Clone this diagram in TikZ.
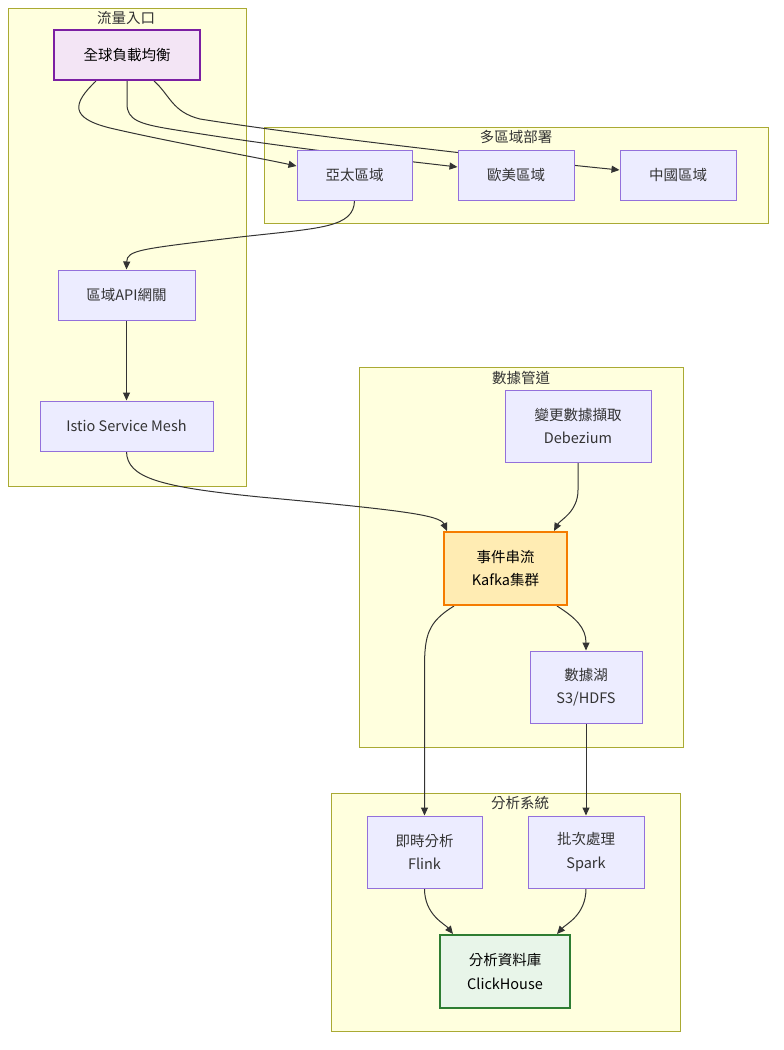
\documentclass[tikz,border=0pt]{standalone}
\usepackage{fontspec}
\setmainfont{Noto Sans CJK TC}
\usetikzlibrary{arrows.meta,calc}
\definecolor{nodefill}{HTML}{ECECFF}
\definecolor{nodeline}{HTML}{9370DB}
\definecolor{clfill}{HTML}{FFFFDE}
\definecolor{clline}{HTML}{AAAA33}
\definecolor{edgecol}{HTML}{333333}
\definecolor{glbfill}{HTML}{F3E5F5}
\definecolor{glbline}{HTML}{7B1FA2}
\definecolor{kfill}{HTML}{FFECB3}
\definecolor{kline}{HTML}{F57C00}
\definecolor{chfill}{HTML}{E8F5E9}
\definecolor{chline}{HTML}{2E7D32}
\pgfdeclarelayer{back}
\pgfdeclarelayer{bg}
\pgfdeclarelayer{edges}
\pgfsetlayers{back,bg,edges,main}
\tikzset{
  box/.style={draw=nodeline, fill=nodefill, line width=1pt, inner sep=0pt, align=center,
    text=edgecol, font=\fontsize{14.5}{23.5}\selectfont},
  glbbox/.style={box, draw=glbline, fill=glbfill, line width=2pt, text=black},
  kbox/.style={box, draw=kline, fill=kfill, line width=2pt, text=black},
  chbox/.style={box, draw=chline, fill=chfill, line width=2pt, text=black},
  cluster/.style={draw=clline, fill=clfill, line width=1pt},
  cltitle/.style={text=edgecol, font=\fontsize{14.5}{17}\selectfont, inner sep=0pt},
  arr/.style={draw=edgecol, line width=1pt, -{Triangle[length=8pt,width=7pt]}},
}
\begin{document}
\begin{tikzpicture}[x=1pt,y=-1pt]
\begin{pgfonlayer}{back}
\path[use as bounding box, fill=white] (0,0) rectangle (784,1050);
\end{pgfonlayer}

% clusters
\begin{pgfonlayer}{bg}
\draw[cluster] (8,8) rectangle (246,486);
\draw[cluster] (264,127) rectangle (768,223);
\draw[cluster] (359,367) rectangle (683,747);
\draw[cluster] (331,793) rectangle (680,1031);
\end{pgfonlayer}
\node[cltitle] (t1) at (126,18) {流量入口};
\node[cltitle] (t2) at (516,137) {多區域部署};
\node[cltitle] (t3) at (521,378) {數據管道};
\node[cltitle] (t4) at (520,803) {分析系統};

% nodes
\node[glbbox, minimum width=146pt, minimum height=50pt] (glb) at (127,55) {全球負載均衡};
\node[box, minimum width=115pt, minimum height=50pt] (ap) at (354.5,175) {亞太區域};
\node[box, minimum width=116pt, minimum height=50pt] (eu) at (516,175) {歐美區域};
\node[box, minimum width=116pt, minimum height=50pt] (cn) at (678,175) {中國區域};
\node[box, minimum width=137pt, minimum height=50pt] (api) at (126.5,295) {區域API網關};
\node[box, minimum width=173pt, minimum height=50pt] (istio) at (126.5,426) {Istio Service Mesh};
\node[box, minimum width=146pt, minimum height=72pt] (deb) at (578,426) {變更數據擷取\\Debezium};
\node[kbox, minimum width=123pt, minimum height=73pt] (kafka) at (505.5,568.5) {事件串流\\Kafka集群};
\node[box, minimum width=112pt, minimum height=72pt] (lake) at (586,687) {數據湖\\S3/HDFS};
\node[box, minimum width=115pt, minimum height=72pt] (flink) at (424.5,852) {即時分析\\Flink};
\node[box, minimum width=116pt, minimum height=72pt] (spark) at (586,852) {批次處理\\Spark};
\node[chbox, minimum width=130pt, minimum height=73pt] (ch) at (505,971.5) {分析資料庫\\ClickHouse};

% edges
\begin{pgfonlayer}{edges}
\draw[arr] ($(glb.south west)+(43,0)$) .. controls (72,104) and (70,118) .. (110,128)
  .. controls (170,142) and (250,156) .. ($(ap.west)+(0,-9)$);
\draw[arr] (glb.south) -- (127,104) .. controls (127,120) and (140,124) .. (170,129)
  .. controls (280,147) and (380,158) .. ($(eu.west)+(0,-8)$);
\draw[arr] ($(glb.south west)+(101,0)$) .. controls (170,95) and (172,112) .. (200,119)
  .. controls (300,135) and (500,158) .. ($(cn.west)+(0,-5)$);
\draw[arr] (ap.south) .. controls (354,228) and (320,228) .. (240,237)
  .. controls (140,249) and (127,250) .. (api.north);
\draw[arr] (api.south) -- (istio.north);
\draw[arr] (istio.south) .. controls (127,478) and (160,487) .. (260,497)
  .. controls (400,510) and (440,515) .. ($(kafka.north west)+(4,0)$);
\draw[arr] (deb.south) -- (578,490) .. controls (578,512) and (560,520) .. ($(kafka.north east)+(-14,0)$);
\draw[arr] ($(kafka.south west)+(11,0)$) .. controls (428,622) and (424.5,635) .. (424.5,668) -- (flink.north);
\draw[arr] ($(kafka.south east)+(-11,0)$) .. controls (576,618) and (586,628) .. (lake.north);
\draw[arr] (lake.south) -- (spark.north);
\draw[arr] (flink.south) .. controls (424.5,915) and (445,924) .. ($(ch.north west)+(14,0)$);
\draw[arr] (spark.south) .. controls (586,915) and (566,924) .. ($(ch.north east)+(-14,0)$);
\end{pgfonlayer}
\end{tikzpicture}
\end{document}
